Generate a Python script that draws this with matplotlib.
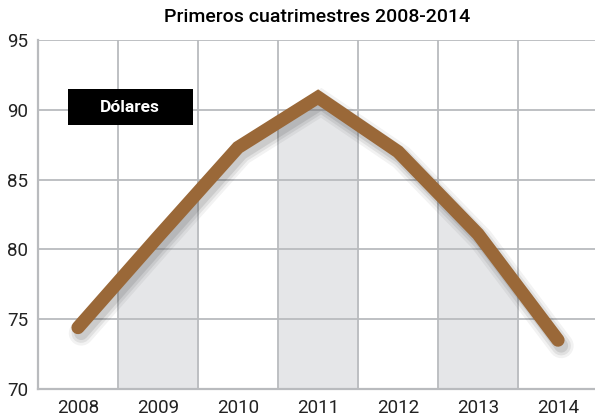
import numpy as np
import matplotlib.pyplot as plt
from matplotlib.patches import Rectangle

years = [2008, 2009, 2010, 2011, 2012, 2013, 2014]
values = [74.4, 80.9, 87.3, 90.9, 87.0, 81.1, 73.5]
shaded_years = [2009, 2011, 2013]
yticks = [70, 75, 80, 85, 90, 95]

plt.rcParams['font.family'] = ['Roboto', 'DejaVu Sans']

fig = plt.figure(figsize=(5.95, 4.17), dpi=100)
ax = fig.add_axes([38 / 595, 28 / 417, 560 / 595, 349 / 417])

grid_c = '#b9bbbe'
ax.set_xlim(2007.5, 2014.5)
ax.set_ylim(70, 95)

# shaded columns under the line
xs = np.array(years, dtype=float)
ys = np.array(values)
for yr in shaded_years:
    xx = np.linspace(yr - 0.5, yr + 0.5, 50)
    yy = np.interp(xx, xs, ys)
    ax.fill_between(xx, 70, yy, color='#e5e6e8', zorder=1, lw=0)

# grid
for x in np.arange(2008.5, 2014.5, 1):
    ax.axvline(x, color=grid_c, lw=1.3, zorder=2)
for y in yticks[1:]:
    ax.axhline(y, color=grid_c, lw=1.3, zorder=2)

# shadow
for a, w in [(0.05, 18), (0.07, 14), (0.09, 10)]:
    ax.plot(xs + 0.04, ys - 0.4, color='black', alpha=a, lw=w,
            solid_capstyle='round', solid_joinstyle='miter', zorder=3)

ax.plot(xs, ys, color='#9a6838', lw=9.5, solid_capstyle='round',
        solid_joinstyle='miter', zorder=4)

for s in ['top', 'right']:
    ax.spines[s].set_visible(False)
for s in ['left', 'bottom']:
    ax.spines[s].set_color(grid_c)
    ax.spines[s].set_linewidth(1.6)

ax.set_xticks(years)
ax.set_xticklabels([str(y) for y in years])
ax.set_yticks(yticks)
ax.tick_params(length=0, labelsize=13.5, colors='#222222', pad=7)
ax.tick_params(axis='x', pad=7)

fig.text(317 / 595, 1 - 17 / 417, 'Primeros cuatrimestres 2008-2014',
         ha='center', va='center', fontsize=14, fontweight='medium',
         color='#000000')

# label box
fig.patches.append(Rectangle((68 / 595, 1 - 125 / 417), 125 / 595, 36 / 417,
                             transform=fig.transFigure, fc='black', ec='none',
                             zorder=5))
fig.text(130 / 595, 1 - 107 / 417, 'Dólares', ha='center', va='center',
         fontsize=12.5, fontweight='bold', color='white', zorder=6)

fig.savefig('out.png', dpi=100)
